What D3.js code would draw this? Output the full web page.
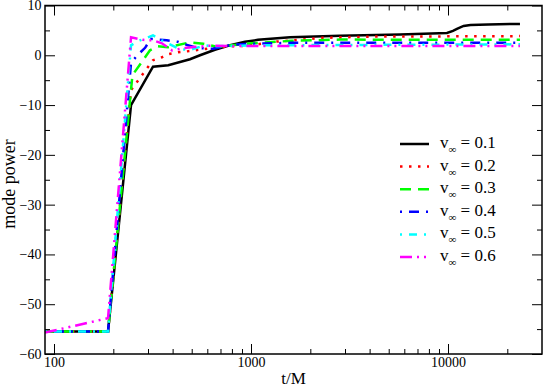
<!DOCTYPE html>
<html>
<head>
<meta charset="utf-8">
<script src="https://cdn.jsdelivr.net/npm/d3@7"></script>
<style>
  body { margin: 0; background: #fff; }
  svg { display: block; }
  svg text { font-family: "Liberation Serif", "Times New Roman", serif !important; fill: #000; }
</style>
</head>
<body>
<div id="chart"></div>
<script>
// mode power vs t/M for several v_inf values
const seriesNames = ["0.1", "0.2", "0.3", "0.4", "0.5", "0.6"];

const black = [[90,-55.5],[188,-55.5],[246,-10],[318,-2.3],[380,-2.0],[490,-0.8],[551,0.0],[656,1.1],[764,1.9],[932,2.7],[1085,3.1],[1578,3.6],[2830,3.9],[5706,4.2],[9880,4.5],[10600,4.9],[11100,5.3],[12000,5.9],[13000,6.1],[16000,6.2],[23190,6.3]];
const red = [[90,-55.5],[188,-55.5],[246,-7],[318,-1],[353,-0.4],[379,0.2],[426,0.6],[490,0.85],[519,1.0],[656,1.5],[764,1.8],[932,1.9],[1085,2.2],[1300,2.7],[2300,3.5],[4000,3.75],[23190,3.85]];
const green = [[90,-55.5],[188,-55.5],[250,-4],[307,1.0],[337,1.8],[379,1.6],[490,2.6],[572,2.3],[670,1.7],[1000,2.4],[1600,2.9],[2830,3.15],[23190,3.1]];
const blue = [[90,-55.5],[188,-55.5],[246,-1.5],[265,0],[290,1.5],[310,3.3],[373,3.0],[426,2.7],[462,2.2],[519,1.6],[572,1.4],[640,1.3],[800,2.1],[1000,2.3],[1600,2.5],[23190,2.5]];
const cyan = [[90,-55.5],[188,-55.5],[246,2.0],[265,2.8],[318,4.0],[353,3.0],[436,1.2],[490,1.1],[584,2.0],[656,1.8],[1000,2.0],[23190,2.2]];
const magenta = [[90,-55.7],[188,-52.8],[246,3.6],[283,3.1],[318,3.0],[353,2.4],[397,1.0],[470,1.5],[600,1.9],[1000,1.85],[23190,1.85]];

const xMajor = [100, 1000, 10000];
const xMinor = [200,300,400,500,600,700,800,900,2000,3000,4000,5000,6000,7000,8000,9000,20000];
const yMajor = [-60, -50, -40, -30, -20, -10, 0, 10];
const yMinor = [-55, -45, -35, -25, -15, -5, 5];

const allSeries = [black, red, green, blue, cyan, magenta];
const colors = ["#000000", "#ff0000", "#00ff00", "#0000ff", "#00ffff", "#ff00ff"];
const dashes = [null, "2.5,6.5", "11,7", "2,7,10,7", "2,7,8,7", "12,5,2,5,2,5"];

let width = 545, height = 387;
let margin = {left: 45, top: 5.5};
let plotW = 542 - margin.left, plotH = 354 - margin.top;

let svg = d3.select("#chart").append("svg")
    .attr("width", width)
    .attr("height", height);

let x = d3.scaleLog().domain([90, 30000]).range([0, plotW]);
let y = d3.scaleLinear().domain([-60, 10]).range([plotH, 0]);

let g = svg.append("g").attr("transform", `translate(${margin.left},${margin.top})`);

// curves
let line = d3.line().x(d => x(d[0])).y(d => y(d[1]));

g.selectAll(".curve")
    .data(allSeries)
    .enter().append("path")
    .attr("class", "curve")
    .attr("d", line)
    .attr("fill", "none")
    .attr("stroke", (d, i) => colors[i])
    .attr("stroke-width", 2.5)
    .attr("stroke-dasharray", (d, i) => dashes[i]);

// axes (ticks point inward, mirrored on top and right)
function styleAxis(sel) {
    sel.attr("font-family", null).attr("font-size", 14);
    sel.select(".domain").remove();
    sel.selectAll(".tick line").attr("stroke", "#000").attr("stroke-width", 1);
}

g.append("g").attr("transform", `translate(0,${plotH})`)
    .call(d3.axisBottom(x).tickValues(xMajor).tickSize(-10).tickPadding(3.5).tickFormat(d3.format("d")))
    .call(styleAxis);
g.append("g").attr("transform", `translate(0,${plotH})`)
    .call(d3.axisBottom(x).tickValues(xMinor).tickSize(-5).tickFormat(""))
    .call(styleAxis);
g.append("g")
    .call(d3.axisTop(x).tickValues(xMajor).tickSize(-10).tickFormat(""))
    .call(styleAxis);
g.append("g")
    .call(d3.axisTop(x).tickValues(xMinor).tickSize(-5).tickFormat(""))
    .call(styleAxis);

g.append("g")
    .call(d3.axisLeft(y).tickValues(yMajor).tickSize(-10).tickPadding(3.5).tickFormat(d3.format("d")))
    .call(styleAxis);
g.append("g")
    .call(d3.axisLeft(y).tickValues(yMinor).tickSize(-5).tickFormat(""))
    .call(styleAxis);
g.append("g").attr("transform", `translate(${plotW},0)`)
    .call(d3.axisRight(y).tickValues(yMajor).tickSize(-10).tickFormat(""))
    .call(styleAxis);
g.append("g").attr("transform", `translate(${plotW},0)`)
    .call(d3.axisRight(y).tickValues(yMinor).tickSize(-5).tickFormat(""))
    .call(styleAxis);

// frame
g.append("rect")
    .attr("width", plotW).attr("height", plotH)
    .attr("fill", "none").attr("stroke", "#000").attr("stroke-width", 1.5);

// axis titles
svg.append("text")
    .attr("x", margin.left + plotW / 2)
    .attr("y", 384)
    .attr("text-anchor", "middle")
    .attr("font-size", 17)
    .text("t/M");

svg.append("text")
    .attr("transform", "translate(15,184) rotate(-90)")
    .attr("text-anchor", "middle")
    .attr("font-size", 18)
    .text("mode power");

// legend
let legend = svg.append("g").attr("class", "legend");
let rows = legend.selectAll(".legend-row")
    .data(seriesNames)
    .enter().append("g")
    .attr("class", "legend-row")
    .attr("transform", (d, i) => `translate(400,${144 + i * 22.6})`);

rows.append("line")
    .attr("x1", 0).attr("x2", 29)
    .attr("stroke", (d, i) => colors[i])
    .attr("stroke-width", 2.5)
    .attr("stroke-dasharray", (d, i) => dashes[i]);

let labels = rows.append("text")
    .attr("x", 40)
    .attr("y", 4)
    .attr("font-size", 17);
labels.append("tspan").text("v");
labels.append("tspan").attr("font-size", 11).attr("dy", 5).text("∞");
labels.append("tspan").attr("dy", -5).text(d => " = " + d);
</script>
</body>
</html>
